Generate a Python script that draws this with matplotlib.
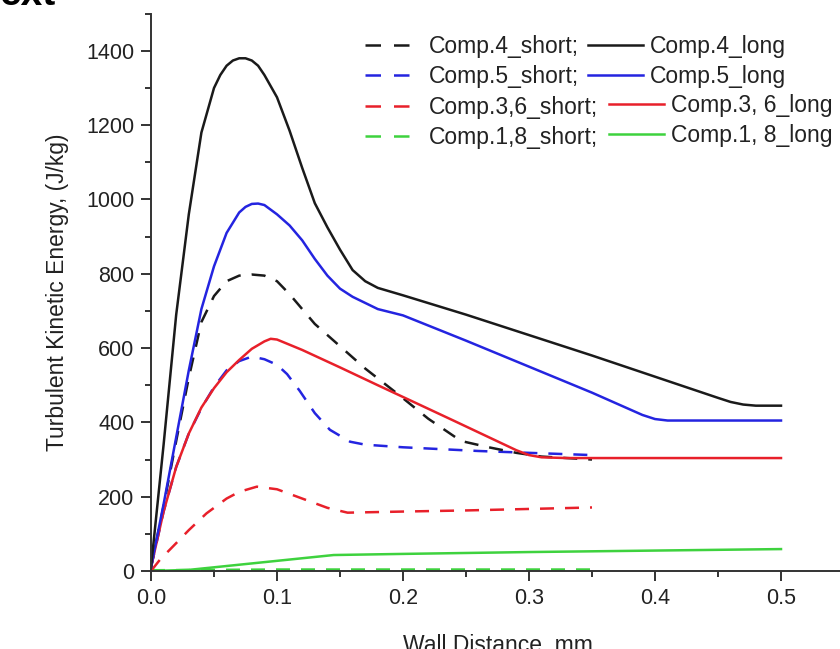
import numpy as np
import matplotlib
matplotlib.use("Agg")
import matplotlib.pyplot as plt
from matplotlib.lines import Line2D

plt.rcParams['font.family'] = ['Liberation Sans', 'DejaVu Sans']

# Comp.4 (black)
x4_short = [0, 0.01, 0.02, 0.03, 0.04, 0.05, 0.06, 0.07, 0.08, 0.09, 0.10, 0.11, 0.12,
            0.13, 0.15, 0.17, 0.196, 0.22, 0.246, 0.268, 0.29, 0.31, 0.35]
y4_short = [10, 175, 350, 520, 670, 740, 780, 795, 798, 795, 780, 745, 705,
            665, 605, 545, 476, 410, 350, 333, 318, 308, 300]
x4_long = [0, 0.01, 0.02, 0.03, 0.04, 0.05, 0.055, 0.06, 0.065, 0.07, 0.075, 0.08, 0.085,
           0.09, 0.10, 0.11, 0.12, 0.13, 0.14, 0.15, 0.16, 0.17, 0.18, 0.20, 0.25,
           0.30, 0.35, 0.40, 0.45, 0.46, 0.47, 0.48, 0.50]
y4_long = [10, 340, 690, 960, 1180, 1300, 1335, 1360, 1374, 1380, 1380, 1374, 1360,
           1335, 1275, 1185, 1085, 990, 925, 865, 810, 780, 762, 742, 690,
           635, 580, 523, 466, 455, 448, 445, 445]

# Comp.5 (blue)
x5_short = [0, 0.01, 0.02, 0.03, 0.04, 0.05, 0.06, 0.07, 0.08, 0.09, 0.10, 0.108, 0.118,
            0.13, 0.142, 0.158, 0.17, 0.20, 0.26, 0.30, 0.35]
y5_short = [10, 160, 280, 370, 438, 495, 540, 565, 577, 570, 555, 530, 485,
            425, 380, 348, 340, 333, 323, 318, 312]
x5_long = [0, 0.01, 0.02, 0.03, 0.04, 0.05, 0.06, 0.07, 0.075, 0.08, 0.085, 0.09, 0.10,
           0.11, 0.12, 0.13, 0.14, 0.15, 0.16, 0.18, 0.20, 0.25, 0.30, 0.35, 0.39,
           0.40, 0.41, 0.50]
y5_long = [10, 180, 360, 540, 705, 820, 910, 965, 980, 988, 989, 985, 960,
           930, 890, 840, 795, 760, 738, 705, 688, 620, 550, 480, 420,
           409, 405, 405]

# Comp.3,6 (red)
x36_short = [0, 0.007, 0.02, 0.03, 0.044, 0.06, 0.07, 0.084, 0.10, 0.12, 0.14, 0.156,
             0.20, 0.25, 0.30, 0.35]
y36_short = [0, 30, 75, 110, 155, 195, 213, 227, 220, 195, 170, 157,
             160, 163, 167, 171]
x36_long = [0, 0.01, 0.02, 0.03, 0.04, 0.05, 0.06, 0.07, 0.08, 0.09, 0.095, 0.10, 0.12,
            0.15, 0.18, 0.211, 0.24, 0.27, 0.29, 0.30, 0.31, 0.33, 0.50]
y36_long = [10, 160, 280, 370, 440, 492, 535, 568, 598, 618, 625, 623, 595,
            548, 500, 451, 405, 357, 325, 312, 306, 304, 304]

# Comp.1,8 (green)
x18_short = [0, 0.1, 0.2, 0.35]
y18_short = [2, 4, 4, 4]
x18_long = [0, 0.03, 0.145, 0.2, 0.3, 0.4, 0.5]
y18_long = [0, 3, 43, 46, 51, 55, 59]

black = '#1a1a1a'
blue = '#2424e0'
red = '#e8202a'
green = '#3ed23e'
dash = (5.6, 4.4)

fig = plt.figure(figsize=(8.4, 6.49), dpi=100)
ax = fig.add_axes([151 / 840, 78 / 649, 693 / 840, 557.3 / 649])

lw = 1.8
ax.plot(x18_long, y18_long, color=green, lw=lw)
ax.plot(x18_short, y18_short, color=green, lw=lw, ls='--', dashes=dash)
ax.plot(x36_short, y36_short, color=red, lw=lw, ls='--', dashes=dash)
ax.plot(x5_short, y5_short, color=blue, lw=lw, ls='--', dashes=dash)
ax.plot(x4_short, y4_short, color=black, lw=lw, ls='--', dashes=dash)
ax.plot(x36_long, y36_long, color=red, lw=lw)
ax.plot(x5_long, y5_long, color=blue, lw=lw)
ax.plot(x4_long, y4_long, color=black, lw=lw)

ax.set_xlim(0, 0.55)
ax.set_ylim(0, 1500)
ax.set_xticks([0.0, 0.1, 0.2, 0.3, 0.4, 0.5])
ax.set_xticks(np.arange(0.05, 0.55, 0.1), minor=True)
ax.set_yticks(range(0, 1401, 200))
ax.set_yticks(range(100, 1501, 200), minor=True)
ax.set_xticklabels(['0.0', '0.1', '0.2', '0.3', '0.4', '0.5'])

for s in ['top', 'right']:
    ax.spines[s].set_visible(False)
for s in ['left', 'bottom']:
    ax.spines[s].set_linewidth(1.4)
    ax.spines[s].set_color('#333333')
ax.tick_params(which='major', length=7, width=1.4, labelsize=15.5, pad=5, colors='#333333',
               labelcolor='#222222')
ax.tick_params(which='minor', length=4, width=1.4, colors='#333333')

ax.set_xlabel('Wall Distance, mm', fontsize=16.5, labelpad=18.5, color='#222222')
ax.set_ylabel('Turbulent Kinetic Energy, (J/kg)', fontsize=16.5, labelpad=12, color='#222222')

# legend, laid out like the original (dashed column + two solid blocks)
W, H = 840, 649
kw = dict(frameon=False, fontsize=16.5, borderpad=0, borderaxespad=0,
          labelspacing=0.32, loc='upper left')

def h(color, ls):
    if ls == '--':
        return Line2D([], [], color=color, lw=lw, ls='--', dashes=(6.2, 5.2))
    return Line2D([], [], color=color, lw=lw)

legA = fig.legend([h(black, '--'), h(blue, '--'), h(red, '--'), h(green, '--')],
                  ['Comp.4_short;', 'Comp.5_short;', 'Comp.3,6_short;', 'Comp.1,8_short;'],
                  bbox_to_anchor=(365 / W, 1 - 35 / H), handlelength=1.95,
                  handletextpad=0.85, **kw)
legB = fig.legend([h(black, '-'), h(blue, '-')], ['Comp.4_long', 'Comp.5_long'],
                  bbox_to_anchor=(588 / W, 1 - 35 / H), handlelength=2.4,
                  handletextpad=0.3, **kw)
legC = fig.legend([h(red, '-'), h(green, '-')], ['Comp.3, 6_long', 'Comp.1, 8_long'],
                  bbox_to_anchor=(609 / W, 1 - 94 / H), handlelength=2.4,
                  handletextpad=0.3, **kw)
for lg in (legA, legB, legC):
    for t in lg.get_texts():
        t.set_color('#222222')

fig.text(56 / W, 1 - 5 / H, 'ext', fontsize=28, fontweight='bold', ha='right', va='baseline')

fig.savefig('out.png', dpi=100)
